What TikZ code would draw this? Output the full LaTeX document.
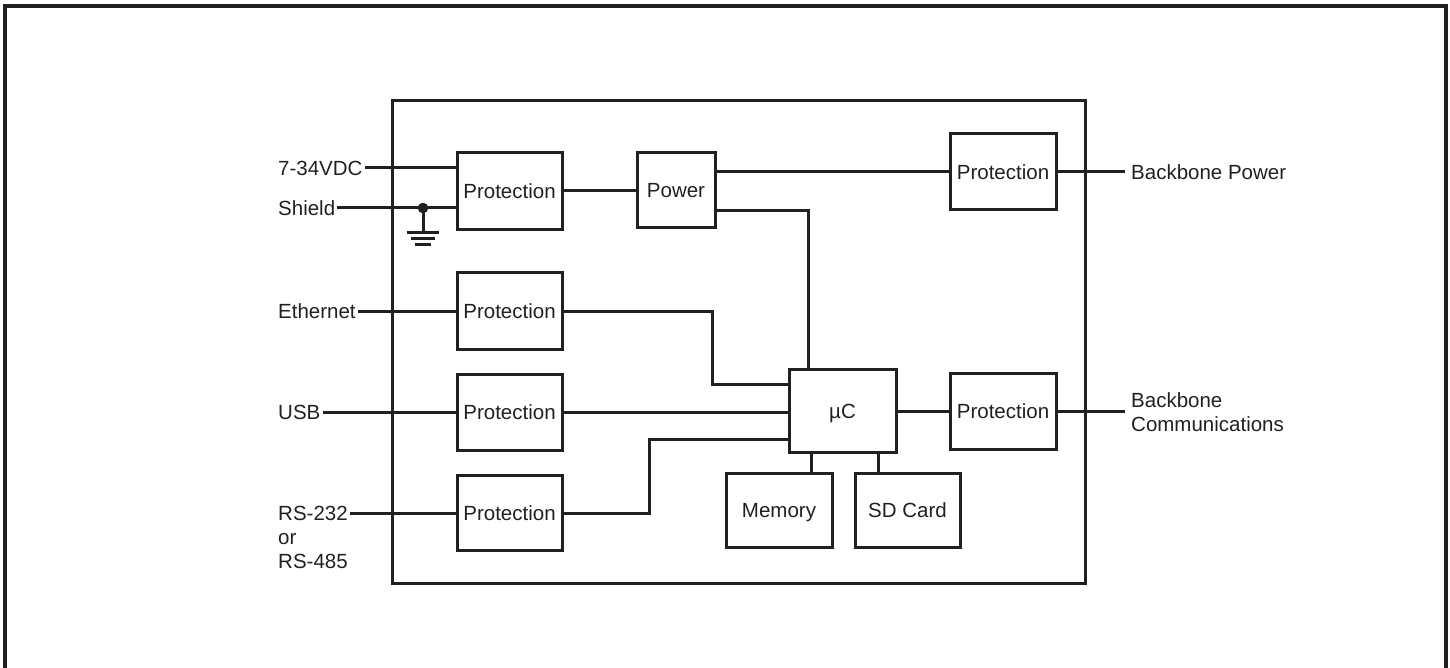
\documentclass[tikz,border=0pt]{standalone}
\usepackage{fontspec}
\setmainfont{Liberation Sans}
\usetikzlibrary{calc}
\definecolor{ink}{RGB}{35,31,32}
\tikzset{
  blk/.style={draw=ink, line width=3pt, inner sep=0pt, text depth=0pt, font=\fontsize{20.5}{24}\selectfont, text=ink},
  lbl/.style={inner sep=0pt, font=\fontsize{20.5}{24}\selectfont, text=ink, align=left},
  wire/.style={draw=ink, line width=3pt},
  frame/.style={draw=ink, line width=3.6pt}
}
\begin{document}
\begin{tikzpicture}[x=1pt,y=-1pt]
\useasboundingbox (0,0) rectangle (1450,668);
\begin{scope}
\clip (0,0) rectangle (1450,668);
\draw[frame] (5,700) -- (5,6) -- (1446,6) -- (1446,700);
\end{scope}
% board
\node[draw=ink, line width=3pt, minimum width=693pt, minimum height=482pt, inner sep=0pt] (board) at (738.5,342) {};
% blocks
\node[blk, minimum width=105pt, minimum height=77pt] (p1) at (509.5,191) {Protection};
\node[blk, minimum width=78pt, minimum height=75pt] (pw) at (676,190) {Power};
\node[blk, minimum width=106pt, minimum height=76pt] (pbp) at (1003,172) {Protection};
\node[blk, minimum width=105pt, minimum height=77pt] (pe) at (509.5,311) {Protection};
\node[blk, minimum width=105pt, minimum height=76pt] (pu) at (509.5,412) {Protection};
\node[blk, minimum width=105pt, minimum height=75pt] (pr) at (509.5,513) {Protection};
\node[blk, minimum width=107pt, minimum height=83pt] (uc) at (842.5,411) {µC};
\node[blk, minimum width=106pt, minimum height=76pt] (pc) at (1003,411) {Protection};
\node[blk, minimum width=106pt, minimum height=74pt] (mem) at (779,510) {Memory};
\node[blk, minimum width=105pt, minimum height=74pt] (sd) at (907.5,510) {SD Card};
% left labels
\node[lbl, anchor=west] (vdc) at (278,168) {7-34VDC};
\node[lbl, anchor=west] (sh) at (278,208) {Shield};
\node[lbl, anchor=west] (eth) at (278,311) {Ethernet};
\node[lbl, anchor=west] (usb) at (278,412) {USB};
\node[lbl, anchor=north west] (rs) at (278,506) {RS-232\\or\\RS-485};
% right labels
\node[lbl, anchor=west] (bp) at (1131,172) {Backbone Power};
\node[lbl, anchor=west] (bc) at (1131,412) {Backbone\\Communications};
% wires from labels
\draw[wire] ([xshift=2pt]vdc.east) -- (vdc.east -| p1.west);
\draw[wire] ([xshift=2pt]sh.east) -- (sh.east -| p1.west);
\draw[wire] ([xshift=2pt]eth.east) -- (eth.east -| pe.west);
\draw[wire] ([xshift=2pt]usb.east) -- (usb.east -| pu.west);
\draw[wire] ([xshift=2pt]rs.east |- pr.west) -- (pr.west);
\draw[wire] (pbp.east) -- ([xshift=-6pt]bp.west |- pbp.east);
\draw[wire] (pc.east) -- ([xshift=-6pt]bc.west |- pc.east);
% ground
\coordinate (jn) at (423,208);
\fill[ink] (jn) circle (5.3);
\draw[wire] (jn) -- ++(0,25) coordinate (gnd);
\draw[wire] ($(gnd)+(-16,0)$) -- ($(gnd)+(16,0)$);
\draw[wire] ($(gnd)+(-12,6)$) -- ($(gnd)+(12,6)$);
\draw[wire] ($(gnd)+(-8,12)$) -- ($(gnd)+(8,12)$);
% internal wires
\draw[wire] (p1.east) -- (p1.east -| pw.west);
\draw[wire] (pbp.west) -- (pbp.west -| pw.east);
\draw[wire] ([yshift=-21pt]pw.east) -| ([xshift=-34.5pt]uc.north);
\draw[wire] (pe.east) -| ([xshift=-75pt,yshift=27pt]uc.west) -- ([yshift=27pt]uc.west);
\draw[wire] (pu.east) -- (pu.east -| uc.west);
\draw[wire] (pr.east) -| ([xshift=-138pt,yshift=-28pt]uc.west) -- ([yshift=-28pt]uc.west);
\draw[wire] (uc.east) -- (uc.east -| pc.west);
\draw[wire] ([xshift=32pt]mem.north) -- ([xshift=32pt]mem.north |- uc.south);
\draw[wire] ([xshift=-29.5pt]sd.north) -- ([xshift=-29.5pt]sd.north |- uc.south);
\end{tikzpicture}
\end{document}
